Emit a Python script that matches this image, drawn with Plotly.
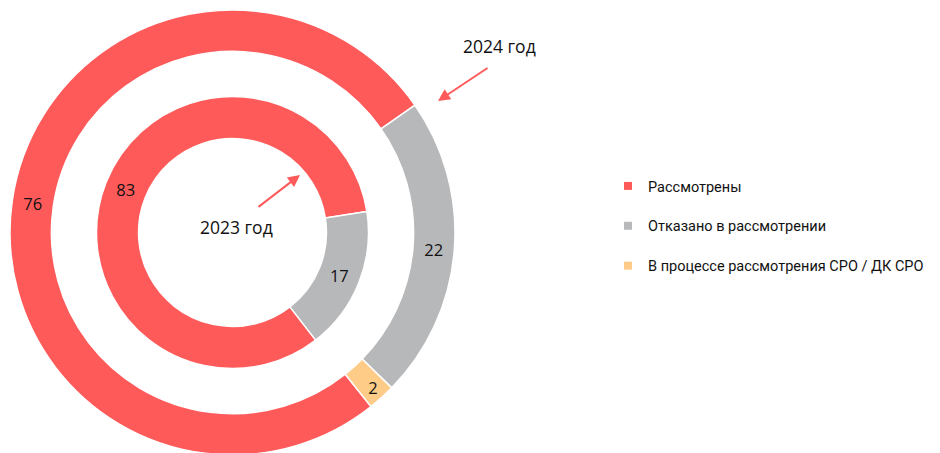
import plotly.graph_objects as go

W, H = 940, 453
OFF = 8  # page body margin of the browser

labels = ["Рассмотрены", "Отказано в рассмотрении", "В процессе рассмотрения СРО / ДК СРО"]
values_2024 = [76, 22, 2]
values_2023 = [83, 17]
colors = ["#FF5A5A", "#B7B8BA", "#FFCC88"]
year_labels = ["2024 год", "2023 год"]


def px_x(p):
    return (p - OFF) / W


def px_y(p):
    return 1 - (p - OFF) / H


fig = go.Figure()

# outer ring: 2024
fig.add_trace(go.Pie(
    labels=labels, values=values_2024, sort=False, direction="clockwise",
    rotation=141.5, hole=0.814,
    marker=dict(colors=colors, line=dict(color="white", width=1.5)),
    textinfo="value", textposition="inside", insidetextorientation="horizontal",
    textfont=dict(family="Open Sans", size=16.5, color="#111111"),
    domain=dict(x=[px_x(10), px_x(455)], y=[px_y(455), px_y(10)]),
    showlegend=False, hoverinfo="label+value",
))

# inner ring: 2023
fig.add_trace(go.Pie(
    labels=labels[:2], values=values_2023, sort=False, direction="clockwise",
    rotation=142.3, hole=0.691,
    marker=dict(colors=colors[:2], line=dict(color="white", width=1.5)),
    textinfo="value", textposition="inside", insidetextorientation="horizontal",
    textfont=dict(family="Open Sans", size=16.5, color="#111111"),
    domain=dict(x=[px_x(96.5), px_x(368.5)], y=[px_y(368.5), px_y(96.5)]),
    showlegend=False, hoverinfo="label+value",
))

# legend entries
for i, (lab, col) in enumerate(zip(labels, colors)):
    fig.add_trace(go.Scatter(
        x=[None], y=[None], mode="markers", name=lab,
        marker=dict(symbol="square", size=8, color=col),
        legendgroup=f"g{i}", showlegend=True,
    ))

fig.update_xaxes(visible=False)
fig.update_yaxes(visible=False)

ann_font = dict(family="Open Sans", size=17.5, color="#111111")
fig.add_annotation(x=px_x(499.5), y=px_y(46), xref="paper", yref="paper",
                   xanchor="center", yanchor="middle",
                   text=year_labels[0], showarrow=False, font=ann_font)
fig.add_annotation(x=px_x(236), y=px_y(227), xref="paper", yref="paper",
                   xanchor="center", yanchor="middle",
                   text=year_labels[1], showarrow=False, font=ann_font)

arrow_col = "#FF5A5A"
fig.add_annotation(x=px_x(438), y=px_y(101), xref="paper", yref="paper",
                   ax=51, ay=-34, axref="pixel", ayref="pixel", text="",
                   showarrow=True, arrowhead=2, arrowsize=1.2, arrowwidth=2,
                   arrowcolor=arrow_col)
fig.add_annotation(x=px_x(300), y=px_y(175), xref="paper", yref="paper",
                   ax=-43, ay=33, axref="pixel", ayref="pixel", text="",
                   showarrow=True, arrowhead=2, arrowsize=1.2, arrowwidth=2,
                   arrowcolor=arrow_col)

fig.update_layout(
    width=W, height=H,
    margin=dict(l=0, r=0, t=0, b=0, autoexpand=False),
    paper_bgcolor="white", plot_bgcolor="white",
    legend=dict(x=px_x(608), y=px_y(170), xanchor="left", yanchor="top",
                font=dict(family="Roboto", size=14.5, color="#111111"),
                traceorder="grouped", tracegroupgap=18, itemwidth=30,
                bgcolor="rgba(0,0,0,0)"),
)

fig.write_html("out.html")
